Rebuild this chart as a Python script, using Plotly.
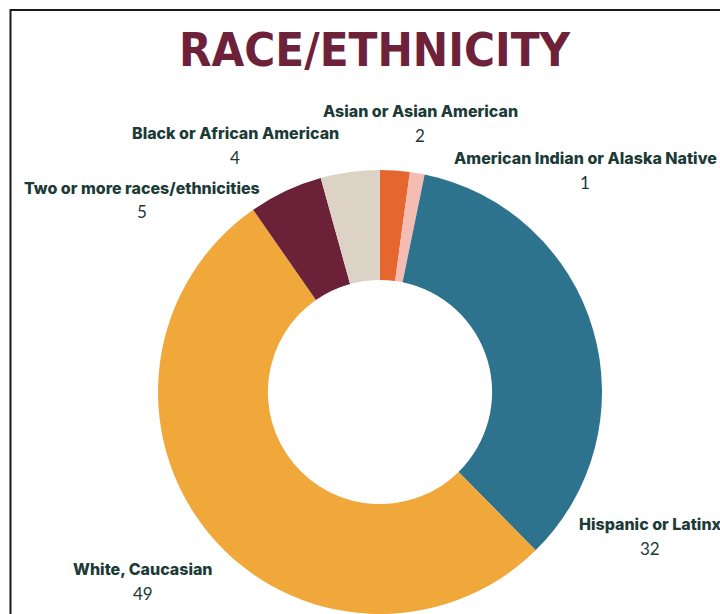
import plotly.graph_objects as go

# ---- data ----
categories = [
    "Asian or Asian American",
    "American Indian or Alaska Native",
    "Hispanic or Latinx",
    "White, Caucasian",
    "Two or more races/ethnicities",
    "Black or African American",
]
counts = [2, 1, 32, 49, 5, 4]
slice_colors = ["#E5672F", "#F4BCB2", "#2E738D", "#F0A83B", "#6B2238", "#DCD2C6"]

# label anchor positions in pixels (x, y of the bold name line)
label_pos = [(420, 111), (585, 158), (650, 524), (143, 569), (142, 188), (235, 133)]

W, H = 720, 614
TEXT = "#1C3B37"

fig = go.Figure()

# pie geometry: centre (380, 392), radius 222
cx, cy, r = 380, 392, 222
fig.add_trace(go.Pie(
    labels=categories,
    values=counts,
    sort=False,
    direction="clockwise",
    rotation=0,
    hole=0.505,
    marker=dict(colors=slice_colors, line=dict(width=0)),
    textinfo="none",
    hoverinfo="label+value",
    showlegend=False,
    domain=dict(x=[(cx - r) / W, (cx + r) / W], y=[0, (H - (cy - r)) / H]),
))

annotations = []
for name, val, (px, py) in zip(categories, counts, label_pos):
    annotations.append(dict(
        x=px / W, y=1 - py / H, xref="paper", yref="paper",
        text=name, showarrow=False,
        xanchor="center", yanchor="middle",
        font=dict(family="Inter", size=16, color=TEXT, weight=800),
    ))
    annotations.append(dict(
        x=px / W, y=1 - (py + 24) / H, xref="paper", yref="paper",
        text=str(val), showarrow=False,
        xanchor="center", yanchor="middle",
        font=dict(family="Lato", size=17, color=TEXT),
    ))

# title
annotations.append(dict(
    x=375 / W, y=1 - 49 / H, xref="paper", yref="paper",
    text="<b>RACE/ETHNICITY</b>", showarrow=False,
    xanchor="center", yanchor="middle",
    font=dict(family="DejaVu Sans Condensed", size=47, color="#6E2239"),
))

fig.update_layout(
    width=W, height=H,
    margin=dict(l=0, r=0, t=0, b=0),
    paper_bgcolor="white",
    plot_bgcolor="white",
    annotations=annotations,
    shapes=[dict(
        type="path", xref="paper", yref="paper",
        path=f"M {10.5/W} 0 L {10.5/W} {1 - 10/H} L 1 {1 - 10/H}",
        line=dict(color="#1a1a1a", width=2),
    )],
)

fig.write_html("out.html")
